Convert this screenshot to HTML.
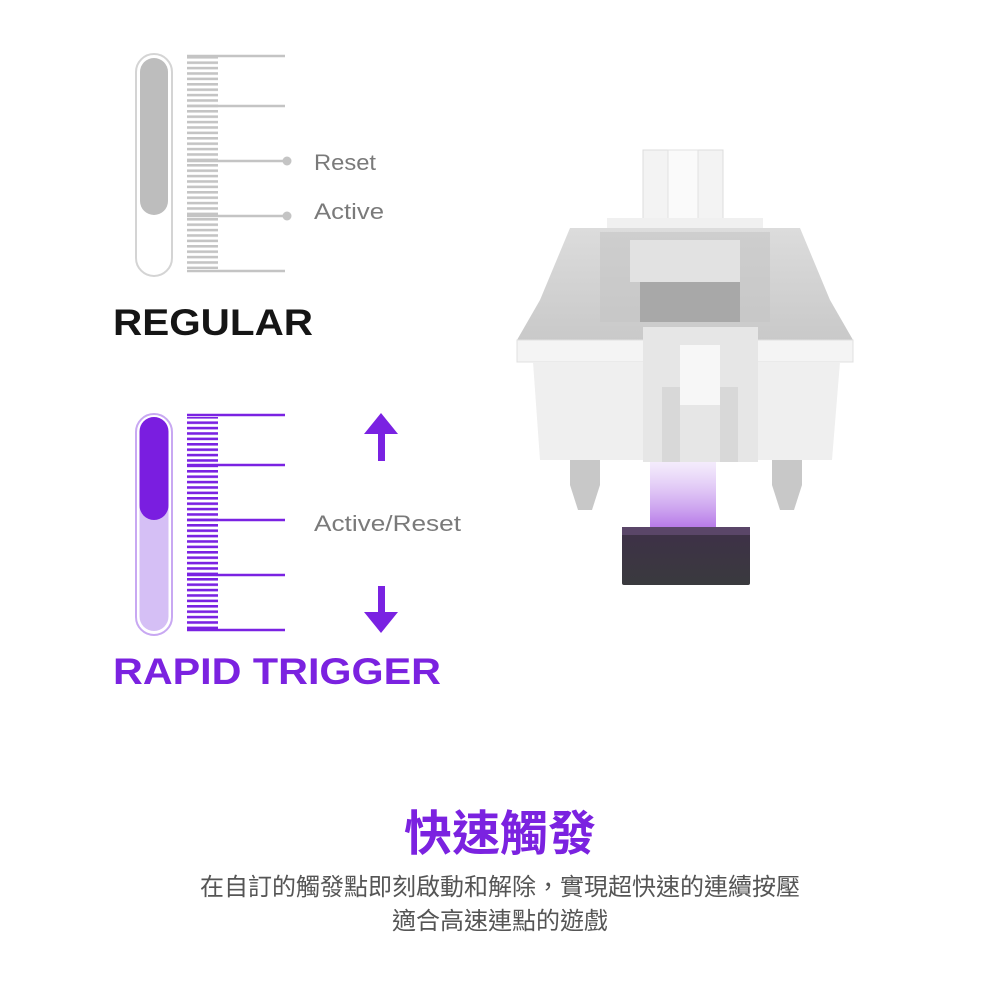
<!DOCTYPE html>
<html><head><meta charset="utf-8"><style>
body{margin:0;background:#fff;width:1000px;height:1000px;overflow:hidden}
svg{position:absolute;left:0;top:0}
</style></head><body>
<svg width="1000" height="1000" viewBox="0 0 1000 1000" xmlns="http://www.w3.org/2000/svg">
<defs>
<pattern id="tg" x="0" y="56" width="10" height="5.4" patternUnits="userSpaceOnUse"><rect x="0" y="0" width="10" height="2.6" fill="#c4c4c4"/></pattern>
<pattern id="tp" x="0" y="416" width="10" height="5.4" patternUnits="userSpaceOnUse"><rect x="0" y="0" width="10" height="2.6" fill="#7a22e2"/></pattern>
<linearGradient id="glow" x1="0" y1="0" x2="0" y2="1"><stop offset="0" stop-color="#c9a0f0" stop-opacity="0.2"/><stop offset="1" stop-color="#a050e0" stop-opacity="0.8"/></linearGradient>
<linearGradient id="blk" x1="0" y1="0" x2="0" y2="1"><stop offset="0" stop-color="#3e3048"/><stop offset="1" stop-color="#3a3a3e"/></linearGradient>
<linearGradient id="hous" x1="0" y1="0" x2="0" y2="1"><stop offset="0" stop-color="#dcdcdc"/><stop offset="1" stop-color="#c9c9c9"/></linearGradient>
</defs>
<rect x="136" y="54" width="36" height="222" rx="18" fill="#fff" stroke="#d4d4d4" stroke-width="2"/>
<rect x="140" y="58" width="28" height="157" rx="14" fill="#bdbdbd"/>
<rect x="187" y="57" width="31" height="212" fill="url(#tg)"/>
<g stroke="#c4c4c4" stroke-width="2.6">
<line x1="187" y1="56" x2="285" y2="56"/><line x1="187" y1="106" x2="285" y2="106"/>
<line x1="187" y1="161" x2="287" y2="161"/><line x1="187" y1="216" x2="287" y2="216"/>
<line x1="187" y1="271" x2="285" y2="271"/></g>
<circle cx="287" cy="161" r="4.5" fill="#c4c4c4"/><circle cx="287" cy="216" r="4.5" fill="#c4c4c4"/>
<g font-family="Liberation Sans, sans-serif" font-size="22" fill="#7a7a7a">
<text x="314" y="170" textLength="62" lengthAdjust="spacingAndGlyphs">Reset</text>
<text x="314" y="219" textLength="70" lengthAdjust="spacingAndGlyphs">Active</text>
<text x="314" y="531" textLength="147" lengthAdjust="spacingAndGlyphs">Active/Reset</text></g>
<text x="113" y="335" font-family="Liberation Sans, sans-serif" font-weight="bold" font-size="37" fill="#151515" textLength="200" lengthAdjust="spacingAndGlyphs">REGULAR</text>
<rect x="136" y="414" width="36" height="221" rx="18" fill="#fff" stroke="#c8a8f2" stroke-width="2"/>
<rect x="139.5" y="417" width="29" height="214" rx="14.5" fill="#d5bff5"/>
<rect x="139.5" y="417" width="29" height="103" rx="14.5" fill="#7a1ee0"/>
<rect x="187" y="417" width="31" height="212" fill="url(#tp)"/>
<g stroke="#7a22e2" stroke-width="2.6">
<line x1="187" y1="415" x2="285" y2="415"/><line x1="187" y1="465" x2="285" y2="465"/>
<line x1="187" y1="520" x2="285" y2="520"/><line x1="187" y1="575" x2="285" y2="575"/>
<line x1="187" y1="630" x2="285" y2="630"/></g>
<rect x="378" y="430" width="7" height="31" fill="#7a22e2"/><polygon points="364,434 381,413 398,434" fill="#7a22e2"/>
<rect x="378" y="586" width="7" height="30" fill="#7a22e2"/><polygon points="364,612 381,633 398,612" fill="#7a22e2"/>
<text x="113" y="684" font-family="Liberation Sans, sans-serif" font-weight="bold" font-size="37" fill="#7b22e0" textLength="328" lengthAdjust="spacingAndGlyphs">RAPID TRIGGER</text>
<rect x="643" y="150" width="80" height="72" fill="#f3f3f3" stroke="#ddd"/>
<rect x="668" y="150" width="30" height="72" fill="#fafafa" stroke="#e2e2e2"/>
<rect x="607" y="218" width="156" height="13" fill="#f0f0f0"/>
<polygon points="570,228 800,228 830,300 853,340 517,340 540,300" fill="url(#hous)"/>
<rect x="600" y="232" width="170" height="90" fill="#c4c4c4" opacity="0.6"/>
<rect x="630" y="240" width="110" height="42" fill="#e2e2e2"/>
<rect x="640" y="282" width="100" height="40" fill="#9a9a9a" opacity="0.7"/>
<rect x="517" y="340" width="336" height="22" fill="#f4f4f4" stroke="#e0e0e0"/>
<polygon points="533,362 840,362 832,460 540,460" fill="#efefef"/>
<rect x="643" y="327" width="115" height="135" fill="#e6e6e6"/>
<rect x="680" y="345" width="40" height="60" fill="#f7f7f7"/>
<rect x="662" y="387" width="18" height="75" fill="#d8d8d8"/><rect x="720" y="387" width="18" height="75" fill="#d8d8d8"/>
<path d="M570 460 H600 V485 L592 510 H578 L570 485 Z" fill="#c8c8c8"/>
<path d="M772 460 H802 V485 L794 510 H780 L772 485 Z" fill="#c8c8c8"/>
<rect x="650" y="462" width="66" height="68" fill="url(#glow)"/>
<rect x="622" y="527" width="128" height="58" rx="2" fill="url(#blk)"/>
<rect x="622" y="527" width="128" height="8" fill="#5a4668"/>
<text x="500" y="850" text-anchor="middle" font-family="Liberation Sans, 'Noto Sans CJK TC', sans-serif" font-weight="bold" font-size="48" fill="#7b22e0">快速觸發</text>
<g font-family="Liberation Sans, 'Noto Sans CJK TC', sans-serif" font-size="24" fill="#555" text-anchor="middle">
<text x="500" y="895">在自訂的觸發點即刻啟動和解除，實現超快速的連續按壓</text>
<text x="500" y="929">適合高速連點的遊戲</text></g>
</svg>
</body></html>
